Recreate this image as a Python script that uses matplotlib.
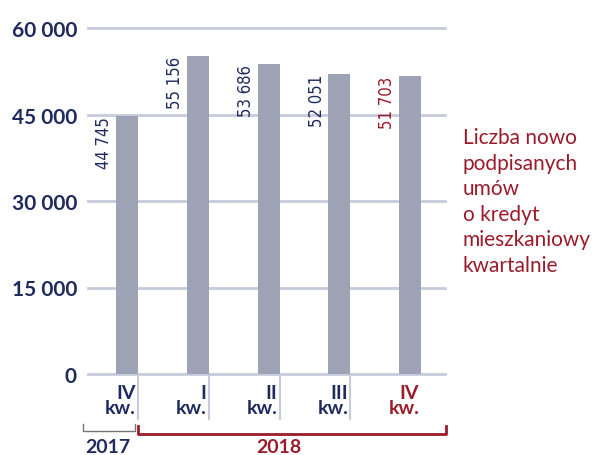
import numpy as np
from matplotlib import pyplot as plt

quarters = ['IV\nkw.', 'I\nkw.', 'II\nkw.', 'III\nkw.', 'IV\nkw.']
values = [44745, 55156, 53686, 52051, 51703]
value_labels = ['44 745', '55 156', '53 686', '52 051', '51 703']
yticks = [0, 15000, 30000, 45000, 60000]
ytick_labels = ['0', '15 000', '30 000', '45 000', '60 000']
years = ['2017', '2018']
note = 'Liczba nowo\npodpisanych\numów\no kredyt\nmieszkaniowy\nkwartalnie'

navy = '#1f2a5e'
red = '#9b1b2a'
bar_color = '#9da3b5'
grid_color = '#c6cbdc'

plt.rcParams['font.family'] = ['Lato', 'DejaVu Sans']

fig = plt.figure(figsize=(5.98, 4.56), dpi=100)
ax = fig.add_axes([88 / 598, 81 / 456, 357 / 598, 346 / 456])

x = np.arange(len(values))
w = 0.31
ax.bar(x, values, width=w, color=bar_color, zorder=3)

ax.set_xlim(-0.55, 4.49)
ax.set_ylim(0, 60000)
for s in ax.spines.values():
    s.set_visible(False)

for v in yticks:
    ax.axhline(v, color=grid_color, lw=2, zorder=1, clip_on=False)
ax.set_yticks(yticks)
ax.set_yticklabels(ytick_labels, fontsize=15, fontweight='bold', color=navy)
ax.tick_params(axis='y', length=0, pad=8)

ax.set_xticks(x + w / 2 - 0.03)
ax.set_xticklabels(quarters, fontsize=14, fontweight='bold', color=navy,
                   ha='right', linespacing=0.9)
ax.get_xticklabels()[-1].set_color(red)
ax.tick_params(axis='x', length=0, pad=7)

tr = ax.get_xaxis_transform()
for xi in x[:-1]:
    ax.plot([xi + w / 2, xi + w / 2], [0, -0.13], transform=tr,
            color=grid_color, lw=1.5, clip_on=False)

for i, (v, lab) in enumerate(zip(values, value_labels)):
    ax.text(x[i] - w / 2 - 0.04, v, lab, rotation=90, ha='right', va='top',
            fontsize=12, fontstretch='condensed', family='DejaVu Sans',
            color=red if i == len(values) - 1 else navy)

# brackets for years
ax.plot([-0.62, -0.62, 0.11, 0.11], [-0.145, -0.165, -0.165, -0.145],
        transform=tr, color='#777777', lw=1, clip_on=False)
ax.plot([0.155, 0.155, 4.51, 4.51], [-0.15, -0.173, -0.173, -0.15],
        transform=tr, color=red, lw=2, clip_on=False)
ax.text(-0.27, -0.21, years[0], transform=tr, ha='center', va='center',
        fontsize=14, fontweight='bold', color=navy)
ax.text(2.15, -0.21, years[1], transform=tr, ha='center', va='center',
        fontsize=14, fontweight='bold', color=red)

fig.text(463 / 598, 1 - 128 / 456, note, ha='left', va='top', fontsize=15,
         color=red, linespacing=1.35)

fig.savefig('out.png', dpi=100)
